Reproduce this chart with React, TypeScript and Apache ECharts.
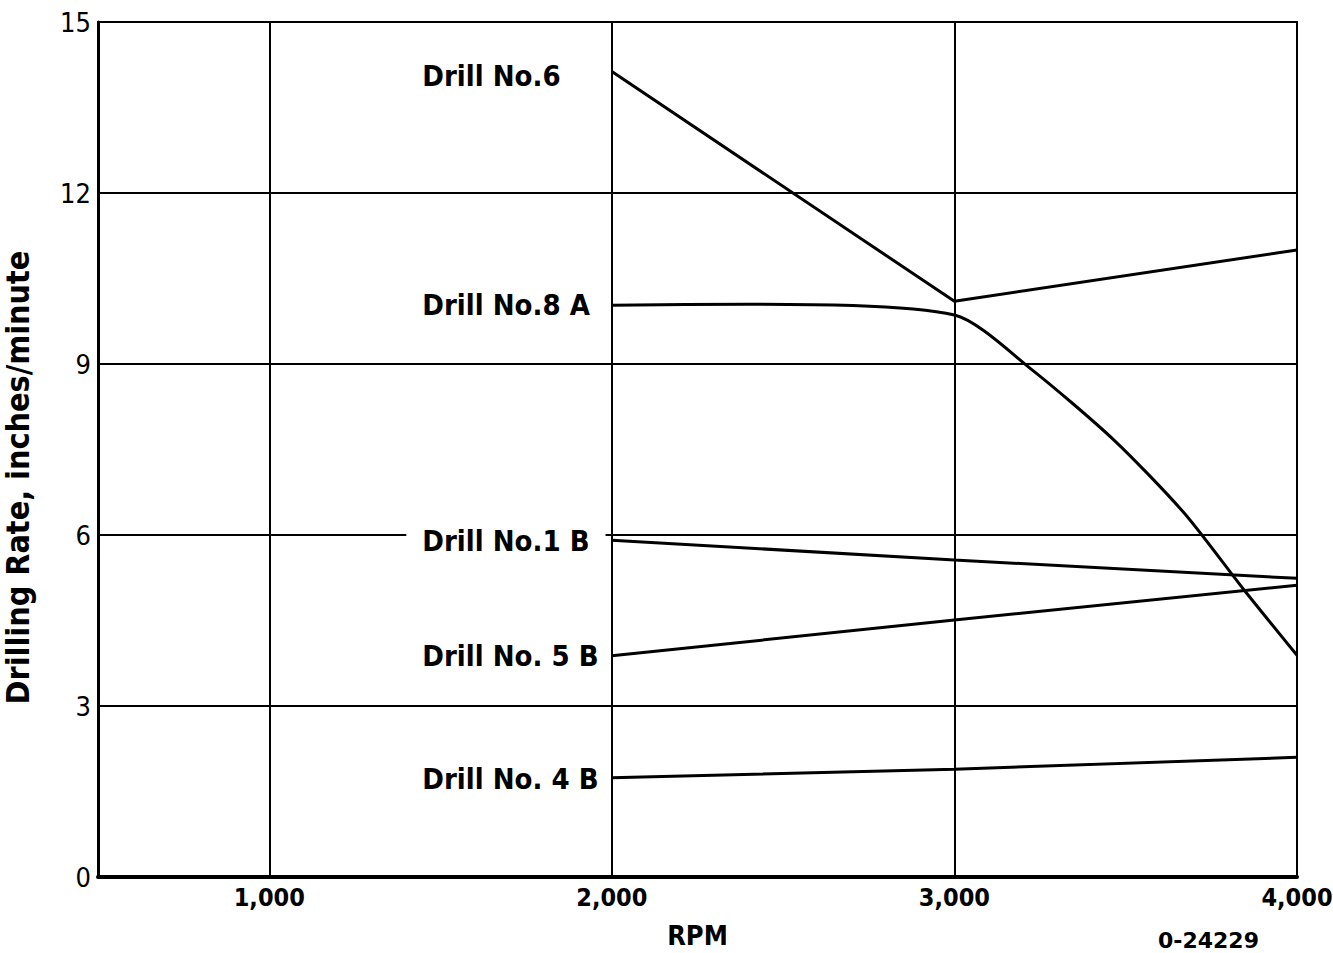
import React, { useEffect, useRef } from "react";
import * as echarts from "echarts";

const rpmGrid = [1000, 2000, 3000, 4000];

const drill6X = [2000, 3000, 4000];
const drill6Y = [14.13, 10.1, 11.0];

const drill8AX = [2000, 2400, 3000, 3222, 3465, 3670, 3845, 4000];
const drill8AY = [10.03, 10.05, 9.86, 8.92, 7.67, 6.39, 5.04, 3.89];

const drill1BX = [2000, 3000, 4000];
const drill1BY = [5.91, 5.56, 5.24];

const drill5BX = [2000, 3000, 4000];
const drill5BY = [3.88, 4.51, 5.12];

const drill4BX = [2000, 3000, 4000];
const drill4BY = [1.74, 1.89, 2.1];

const labelNames = ["Drill No.6", "Drill No.8 A", "Drill No.1 B", "Drill No. 5 B", "Drill No. 4 B"];
const labelRpm = 1400;
const labelValues = [14.05, 10.03, 5.9, 3.88, 1.72];

const FONT = "'DejaVu Sans Condensed', 'DejaVu Sans', sans-serif";

const zip = (xs: number[], ys: number[]) => xs.map((x, i) => [x, ys[i]]);

export default function App() {
  const ref = useRef<HTMLDivElement>(null);
  useEffect(() => {
    const chart = echarts.init(ref.current!, null, { renderer: "svg" });
    const lineStyle = { color: "#000", width: 3 };
    const mkLine = (name: string, data: number[][], smooth: number | boolean = false) => ({
      type: "line",
      name,
      data,
      symbol: "none",
      smooth,
      lineStyle,
      z: 5,
    });
    chart.setOption({
      animation: false,
      backgroundColor: "#fff",
      textStyle: { fontFamily: FONT, color: "#000" },
      grid: {
        left: 98,
        right: 36,
        top: 22,
        bottom: 76,
        show: true,
        borderColor: "#000",
        borderWidth: 2,
        containLabel: false,
        outerBoundsMode: "none",
      },
      xAxis: {
        type: "value",
        min: 500,
        max: 4000,
        interval: 500,
        name: "RPM",
        nameLocation: "middle",
        nameGap: 45,
        nameTextStyle: { fontFamily: FONT, fontSize: 27, fontWeight: "bold", color: "#000" },
        axisLine: { show: true, lineStyle: { color: "#000", width: 4 } },
        axisTick: { show: false },
        splitLine: { show: false },
        axisLabel: {
          fontFamily: FONT,
          fontSize: 25,
          fontWeight: "bold",
          color: "#000",
          margin: 8,
          formatter: (v: number) => (v % 1000 === 0 ? v.toLocaleString("en-US") : ""),
        },
      },
      yAxis: {
        type: "value",
        min: 0,
        max: 15,
        interval: 3,
        name: "Drilling Rate, inches/minute",
        nameLocation: "middle",
        nameGap: 64,
        nameTextStyle: {
          fontFamily: FONT,
          fontSize: 32,
          fontWeight: "bold",
          color: "#000",
          padding: [0, 56, 0, 0],
        },
        axisLine: { show: true, lineStyle: { color: "#000", width: 3 } },
        axisTick: { show: false },
        splitLine: { show: true, lineStyle: { color: "#000", width: 2 } },
        axisLabel: { fontFamily: FONT, fontSize: 27, color: "#000", margin: 7 },
      },
      graphic: [
        {
          type: "text",
          left: 1158,
          top: 929,
          style: {
            text: "0-24229",
            fontFamily: "'DejaVu Sans', sans-serif",
            fontSize: 22,
            fontWeight: "bold",
            fill: "#000",
          },
        },
      ],
      series: [
        {
          type: "line",
          data: [],
          markLine: {
            silent: true,
            symbol: "none",
            label: { show: false },
            lineStyle: { color: "#000", width: 2, type: "solid" },
            data: rpmGrid.map((x) => ({ xAxis: x })),
          },
        },
        mkLine("Drill No.6", zip(drill6X, drill6Y)),
        mkLine("Drill No.8 A", zip(drill8AX, drill8AY), 0.25),
        mkLine("Drill No.1 B", zip(drill1BX, drill1BY)),
        mkLine("Drill No.5 B", zip(drill5BX, drill5BY)),
        mkLine("Drill No.4 B", zip(drill4BX, drill4BY)),
        {
          type: "scatter",
          symbolSize: 0,
          z: 4,
          itemStyle: { opacity: 1 },
          data: labelValues.map((v, i) => ({ value: [labelRpm, v], name: labelNames[i] })),
          label: {
            show: true,
            position: "right",
            distance: 0,
            formatter: (p: any) => p.name,
            fontFamily: FONT,
            fontSize: 29,
            fontWeight: "bold",
            color: "#000",
            opacity: 1,
            backgroundColor: "#fff",
            padding: [2, 16],
          },
        },
      ],
    });
    return () => chart.dispose();
  }, []);
  return (
    <div
      ref={ref}
      style={{ position: "fixed", left: 0, top: 0, width: 1333, height: 953 }}
    />
  );
}
